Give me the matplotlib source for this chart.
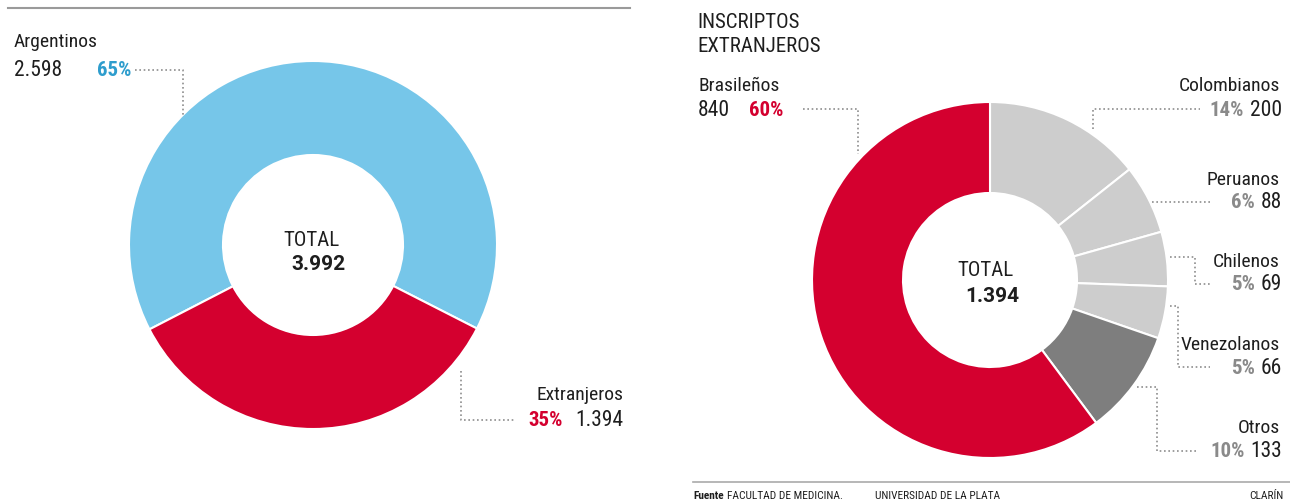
import matplotlib
matplotlib.use("Agg")
import matplotlib.pyplot as plt

plt.rcParams['font.family'] = ['Roboto Condensed', 'Liberation Sans Narrow', 'Roboto', 'DejaVu Sans']

# datos
grupos = ['Argentinos', 'Extranjeros']
inscriptos = [2598, 1394]
total_general = 3992

paises = ['Colombianos', 'Peruanos', 'Chilenos', 'Venezolanos', 'Otros', 'Brasileños']
extranjeros = [200, 88, 69, 66, 133, 840]
total_extranjeros = 1394

ROJO = '#D4002F'
CELESTE = '#76C6E9'
AZUL_TXT = '#2E9DCD'
GRIS = '#CDCDCD'
GRIS_OSC = '#7E7E7E'
GRIS_TXT = '#8A8A8A'
NEGRO = '#1E1E1E'

W, H = 1290, 502
fig = plt.figure(figsize=(W / 100, H / 100), dpi=100)
ax = fig.add_axes([0, 0, 1, 1])


def Y(y):
    return H - y


def fmt(v):
    return f"{v:,}".replace(",", ".")


def pct(v, t):
    return f"{round(100 * v / t)}%"


# dona izquierda
ax.pie(inscriptos, colors=[CELESTE, ROJO], startangle=-27, counterclock=True,
       center=(313, Y(246)), radius=184,
       wedgeprops=dict(width=94, edgecolor='white', linewidth=1.5))

# dona derecha
colores = [GRIS, GRIS, GRIS, GRIS, GRIS_OSC, ROJO]
ax.pie(extranjeros, colors=colores, startangle=90, counterclock=False,
       center=(990, Y(281)), radius=178,
       wedgeprops=dict(width=91, edgecolor='white', linewidth=1.5))

ax.set_xlim(0, W)
ax.set_ylim(0, H)
ax.set_aspect('auto')
ax.axis('off')

# totales
ax.text(312, Y(240), 'TOTAL', ha='center', va='center', fontsize=15, color=NEGRO)
ax.text(318, Y(265), fmt(total_general), ha='center', va='center', fontsize=15,
        fontweight='bold', color=NEGRO, family=['Roboto', 'DejaVu Sans'])
ax.text(986, Y(271), 'TOTAL', ha='center', va='center', fontsize=15, color=NEGRO)
ax.text(992, Y(297), fmt(total_extranjeros), ha='center', va='center', fontsize=15,
        fontweight='bold', color=NEGRO, family=['Roboto', 'DejaVu Sans'])

lead = dict(color='#8E8E8E', lw=1.2, ls=(0, (1, 1.6)))


def leader(pts):
    ax.plot([p[0] for p in pts], [Y(p[1]) for p in pts], **lead)


# etiquetas izquierda
ax.text(14, Y(42), grupos[0], ha='left', va='center', fontsize=14, color=NEGRO)
ax.text(14, Y(71), fmt(inscriptos[0]), ha='left', va='center', fontsize=15.5, color=NEGRO)
ax.text(97, Y(71), pct(inscriptos[0], total_general), ha='left', va='center', fontsize=15,
        fontweight='bold', color=AZUL_TXT)
leader([(135, 71), (183, 71), (183, 118)])

ax.text(623, Y(395), grupos[1], ha='right', va='center', fontsize=14, color=NEGRO)
ax.text(623, Y(421), fmt(inscriptos[1]), ha='right', va='center', fontsize=15.5, color=NEGRO)
ax.text(563, Y(421), pct(inscriptos[1], total_general), ha='right', va='center', fontsize=15,
        fontweight='bold', color=ROJO)
leader([(461, 372), (461, 421), (515, 421)])

# titulo derecha
ax.text(697, Y(22), 'INSCRIPTOS', ha='left', va='center', fontsize=15, color=NEGRO)
ax.text(697, Y(47), 'EXTRANJEROS', ha='left', va='center', fontsize=15, color=NEGRO)

# etiquetas derecha
ax.text(698, Y(86), paises[5], ha='left', va='center', fontsize=14, color=NEGRO)
ax.text(698, Y(110), fmt(extranjeros[5]), ha='left', va='center', fontsize=15.5, color=NEGRO)
ax.text(749, Y(110), pct(extranjeros[5], total_extranjeros), ha='left', va='center',
        fontsize=15, fontweight='bold', color=ROJO)
leader([(803, 110), (858, 110), (858, 155)])

etiquetas = [
    (0, 86, 110, [(1093, 130), (1093, 110), (1200, 110)]),
    (1, 180, 203, [(1152, 203), (1210, 203)]),
    (2, 262, 285, [(1170, 258), (1195, 258), (1195, 285), (1210, 285)]),
    (3, 345, 368, [(1170, 307), (1178, 307), (1178, 368), (1210, 368)]),
    (4, 428, 452, [(1137, 388), (1157, 388), (1157, 452), (1198, 452)]),
]
fig.canvas.draw()
for i, y1, y2, pts in etiquetas:
    ax.text(1280, Y(y1), paises[i], ha='right', va='center', fontsize=14, color=NEGRO)
    t = ax.text(1282, Y(y2), fmt(extranjeros[i]), ha='right', va='center', fontsize=15.5,
                color=NEGRO)
    bb = t.get_window_extent(renderer=fig.canvas.get_renderer())
    ax.text(bb.x0 - 6, Y(y2), pct(extranjeros[i], total_extranjeros), ha='right',
            va='center', fontsize=15, fontweight='bold', color=GRIS_TXT)
    leader(pts)

# lineas y pie de fuente
ax.plot([8, 630], [Y(9), Y(9)], color='#9A9A9A', lw=1.5)
ax.plot([693, 1290], [Y(483), Y(483)], color='#AAAAAA', lw=1.2)
ax.text(693, Y(496), 'Fuente', ha='left', va='center', fontsize=8.2, fontweight='bold',
        color=NEGRO)
ax.text(727, Y(496), 'FACULTAD DE MEDICINA.', ha='left', va='center', fontsize=8.2,
        color=NEGRO)
ax.text(875, Y(496), 'UNIVERSIDAD DE LA PLATA', ha='left', va='center', fontsize=8.2,
        color=NEGRO)
ax.text(1283, Y(496), 'CLARÍN', ha='right', va='center', fontsize=8.2, color=NEGRO)

fig.savefig('out.png', dpi=100)
